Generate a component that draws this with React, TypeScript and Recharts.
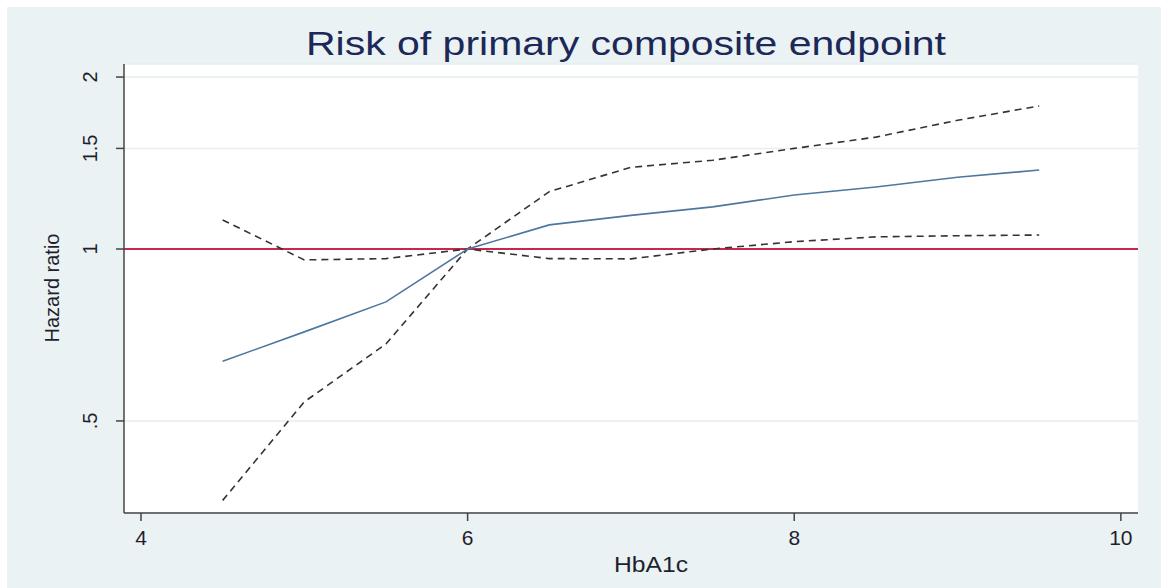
import { LineChart, Line, XAxis, YAxis, CartesianGrid, ReferenceLine } from 'recharts';

// HbA1c values where the curve was evaluated
const hba1c = [4.5, 5, 5.5, 6, 6.5, 7, 7.5, 8, 8.5, 9, 9.5];
// hazard ratio and 95% CI
const hazard = [0.636, 0.716, 0.808, 1.0, 1.102, 1.145, 1.185, 1.243, 1.284, 1.335, 1.375];
const upper = [1.124, 0.957, 0.962, 1.0, 1.26, 1.39, 1.43, 1.5, 1.57, 1.68, 1.78];
const lower = [0.363, 0.54, 0.682, 1.0, 0.962, 0.961, 1.0, 1.03, 1.05, 1.055, 1.058];

const xTicks = [4, 6, 8, 10];
const yTicks = [0.5, 1, 1.5, 2];
const yTickLabels = ['.5', '1', '1.5', '2'];

const data = hba1c.map((x, i) => ({ x, hr: hazard[i], hi: upper[i], lo: lower[i] }));

const FONT = '"Liberation Sans", Arial, sans-serif';
const BG = '#EAF2F3';

const XTick = ({ x, payload }: any) => (
  <text x={x} y={538} textAnchor="middle" fontSize={21} fontFamily={FONT} fill="#1f1f2e">
    {payload.value}
  </text>
);

const YTick = ({ y, payload }: any) => {
  const i = yTicks.indexOf(payload.value);
  return (
    <text
      x={90}
      y={y}
      transform={`rotate(-90, 90, ${y})`}
      textAnchor="middle"
      fontSize={20}
      fontFamily={FONT}
      fill="#1f1f2e"
    >
      {i >= 0 ? yTickLabels[i] : payload.value}
    </text>
  );
};

export default function App() {
  return (
    <div style={{ position: 'absolute', left: 0, top: 0, width: 1161, height: 588, background: '#fff' }}>
      <div style={{ position: 'absolute', left: 7, top: 7, width: 1154, height: 581, background: BG }}>
        <svg width={1154} height={70} style={{ position: 'absolute', left: 0, top: 0 }}>
          <text
            x={619}
            y={48}
            textAnchor="middle"
            fontSize={33}
            fontFamily={FONT}
            fill="#1c2857"
            textLength={640}
            lengthAdjust="spacingAndGlyphs"
          >
            Risk of primary composite endpoint
          </text>
        </svg>
        <svg width={1154} height={581} style={{ position: 'absolute', left: 0, top: 0, pointerEvents: 'none' }}>
          <text x={644} y={565} textAnchor="middle" fontSize={22} fontFamily={FONT} fill="#1f1f2e"
            textLength={74} lengthAdjust="spacingAndGlyphs">
            HbA1c
          </text>
          <text
            x={52}
            y={281}
            transform="rotate(-90, 52, 281)"
            textAnchor="middle"
            fontSize={20}
            fontFamily={FONT}
            fill="#1f1f2e"
          >
            Hazard ratio
          </text>
        </svg>
        <LineChart
          width={1154}
          height={581}
          data={data}
          margin={{ top: 57, right: 23, bottom: 15, left: 0 }}
          style={{ position: 'absolute', left: 0, top: 0 }}
        >
          <CartesianGrid vertical={false} fill="#ffffff" stroke="#E6EEF1" strokeWidth={1.5} />
          <XAxis
            dataKey="x"
            type="number"
            domain={[3.896, 10.105]}
            ticks={xTicks}
            allowDataOverflow
            height={60}
            tickSize={8}
            axisLine={{ stroke: '#444', strokeWidth: 1.5 }}
            tickLine={{ stroke: '#444', strokeWidth: 1.5 }}
            tick={<XTick />}
          />
          <YAxis
            type="number"
            scale="log"
            domain={[0.345, 2.108]}
            ticks={yTicks}
            allowDataOverflow
            width={117}
            tickSize={8}
            axisLine={{ stroke: '#444', strokeWidth: 1.5 }}
            tickLine={{ stroke: '#444', strokeWidth: 1.5 }}
            tick={<YTick />}
          />
          <ReferenceLine y={1} stroke="#C8264A" strokeWidth={2} />
          <Line
            dataKey="hi"
            type="linear"
            stroke="#333"
            strokeWidth={1.6}
            strokeDasharray="7 5"
            dot={false}
            isAnimationActive={false}
          />
          <Line
            dataKey="lo"
            type="linear"
            stroke="#333"
            strokeWidth={1.6}
            strokeDasharray="7 5"
            dot={false}
            isAnimationActive={false}
          />
          <Line
            dataKey="hr"
            type="linear"
            stroke="#4E77A0"
            strokeWidth={1.6}
            dot={false}
            isAnimationActive={false}
          />
        </LineChart>
      </div>
    </div>
  );
}
